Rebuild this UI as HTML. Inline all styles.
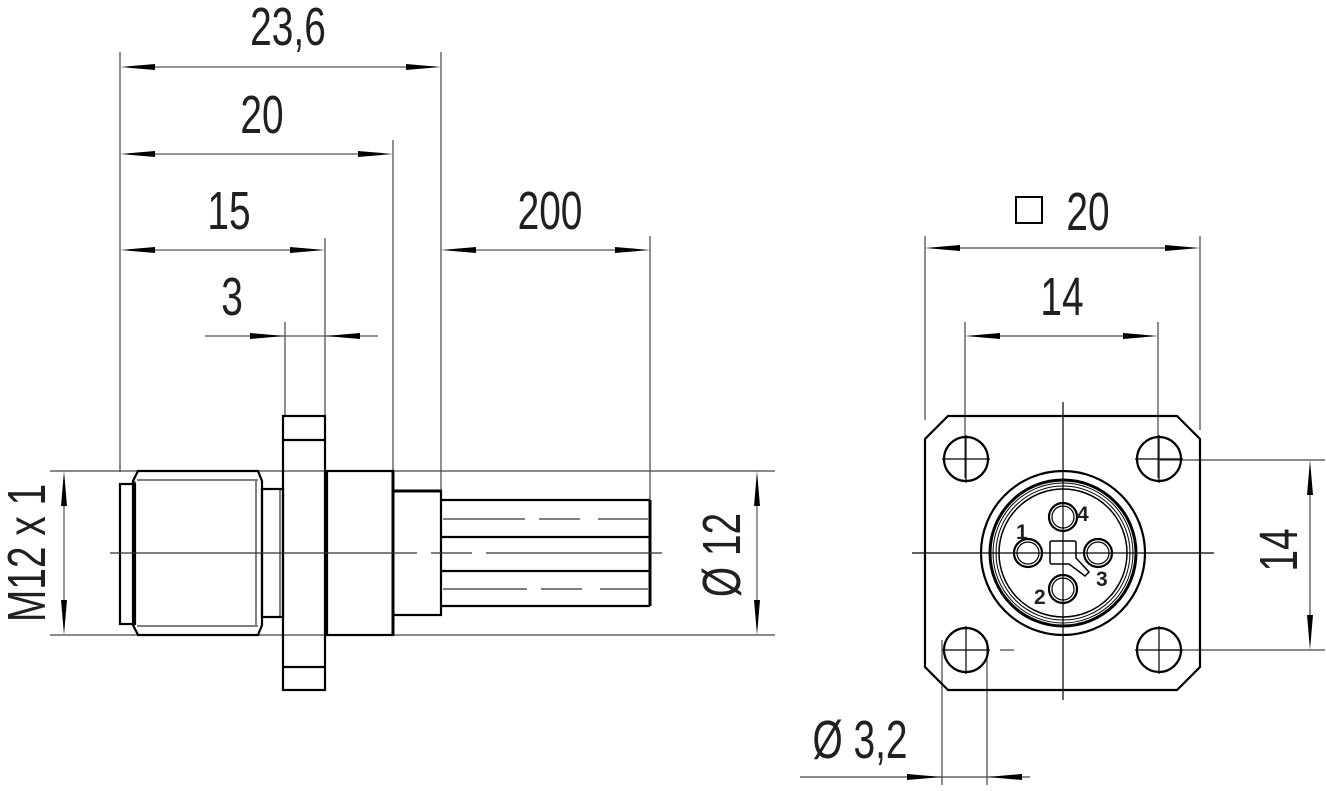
<!DOCTYPE html>
<html><head><meta charset="utf-8"><style>
html,body{margin:0;padding:0;background:#fff;}
svg{display:block}
text{font-family:"Liberation Sans",sans-serif;font-size:54px;fill:#231f20;}
</style></head><body>
<svg width="1326" height="791" viewBox="0 0 1326 791" xmlns="http://www.w3.org/2000/svg">
<g stroke="#000" fill="none">
<g stroke-width="1.2" stroke="#444">
<line x1="120" y1="52" x2="120" y2="472"/>
<line x1="393" y1="140" x2="393" y2="472"/>
<line x1="441" y1="52" x2="441" y2="491"/>
<line x1="325" y1="238" x2="325" y2="416"/>
<line x1="285" y1="322" x2="285" y2="416"/>
<line x1="650" y1="236" x2="650" y2="500"/>
<line x1="50" y1="471" x2="775" y2="471"/>
<line x1="50" y1="635" x2="775" y2="635"/>
</g>
<g stroke-width="1.2" stroke="#555">
<line x1="155" y1="67" x2="406" y2="67"/>
<line x1="155" y1="154" x2="358" y2="154"/>
<line x1="155" y1="250" x2="290" y2="250"/>
<line x1="476" y1="250" x2="615" y2="250"/>
<line x1="205" y1="336" x2="378" y2="336"/>
<line x1="64" y1="506" x2="64" y2="600"/>
<line x1="757" y1="506" x2="757" y2="600"/>
</g>
<g stroke="none" fill="#000">
<path d="M120,67 l35,-3 v6z M441,67 l-35,-3 v6z"/>
<path d="M120,154 l35,-3 v6z M393,154 l-35,-3 v6z"/>
<path d="M120,250 l35,-3 v6z M325,250 l-35,-3 v6z"/>
<path d="M441,250 l35,-3 v6z M650,250 l-35,-3 v6z"/>
<path d="M285,336 l-35,-3 v6z M325,336 l35,-3 v6z"/>
<path d="M64,471 l-3,35 h6z M64,635 l-3,-35 h6z"/>
<path d="M757,471 l-3,35 h6z M757,635 l-3,-35 h6z"/>
</g>
<g stroke-width="2.2">
<rect x="120" y="484" width="15" height="140"/>
<path d="M138,471 H258 L262,481 V625 L258,635 H138 L133,625 V481 Z"/>
<line x1="137" y1="480" x2="258" y2="480" stroke-width="1"/>
<line x1="137" y1="626" x2="258" y2="626" stroke-width="1"/>
<line x1="135" y1="481" x2="135" y2="625" stroke-width="1"/>
<line x1="256" y1="481" x2="256" y2="625" stroke-width="1"/>
<rect x="262" y="489" width="21" height="128"/>
<line x1="280" y1="489" x2="280" y2="617" stroke-width="1"/>
<rect x="283" y="416" width="42" height="274"/>
<line x1="283" y1="440" x2="325" y2="440"/>
<line x1="283" y1="667" x2="325" y2="667"/>
<rect x="327" y="471" width="66" height="164"/>
<rect x="393" y="491" width="48" height="124"/>
<line x1="393" y1="491" x2="441" y2="491" stroke-width="3"/>
<line x1="393" y1="471" x2="393" y2="635" stroke-width="3"/>
<line x1="441" y1="500" x2="650" y2="500"/>
<line x1="441" y1="537" x2="650" y2="537"/>
<line x1="441" y1="571" x2="650" y2="571"/>
<line x1="441" y1="606" x2="650" y2="606"/>
<line x1="650" y1="500" x2="650" y2="606" stroke-width="3"/>
</g>
<g stroke-width="1.2" stroke="#333">
<line x1="443" y1="519" x2="525" y2="519"/><line x1="539" y1="519" x2="580" y2="519"/><line x1="598" y1="519" x2="648" y2="519"/>
<line x1="443" y1="589" x2="527" y2="589"/><line x1="541" y1="589" x2="582" y2="589"/><line x1="600" y1="589" x2="648" y2="589"/>
<line x1="110" y1="553" x2="417" y2="553"/><line x1="431" y1="553" x2="472" y2="553"/><line x1="486" y1="553" x2="662" y2="553"/>
</g>

<g stroke-width="1.2" stroke="#444">
<line x1="925" y1="236" x2="925" y2="420"/>
<line x1="1200" y1="236" x2="1200" y2="430"/>
<line x1="965" y1="322" x2="965" y2="478"/>
<line x1="1158" y1="322" x2="1158" y2="478"/>
<line x1="1160" y1="460" x2="1325" y2="460"/>
<line x1="1160" y1="650" x2="1325" y2="650"/>
<line x1="942" y1="640" x2="942" y2="785"/>
<line x1="987" y1="640" x2="987" y2="785"/>
<line x1="960" y1="248" x2="1165" y2="248"/>
<line x1="1000" y1="336" x2="1123" y2="336"/>
<line x1="1310" y1="495" x2="1310" y2="615"/>
<line x1="800" y1="777" x2="1030" y2="777"/>
<line x1="1000" y1="650" x2="1014" y2="650"/>
</g>
<g stroke="none" fill="#000">
<path d="M925,248 l35,-3 v6z M1200,248 l-35,-3 v6z"/>
<path d="M965,336 l35,-3 v6z M1158,336 l-35,-3 v6z"/>
<path d="M1310,460 l-3,35 h6z M1310,650 l-3,-35 h6z"/>
<path d="M942,777 l-35,-3 v6z M987,777 l35,-3 v6z"/>
</g>
<g stroke-width="2.2">
<path d="M948,416 H1177 L1200,439 V667 L1177,690 H948 L925,667 V439 Z"/>
<circle cx="966" cy="459" r="22"/><circle cx="1159" cy="459" r="22"/>
<circle cx="966" cy="650" r="22"/><circle cx="1159" cy="650" r="22"/>
<circle cx="1063" cy="553" r="82"/>
<circle cx="1063" cy="553" r="73" stroke-width="3"/>
<circle cx="1063" cy="553" r="70" stroke-width="1"/>
<circle cx="1063" cy="553" r="67" stroke-width="1"/>
<circle cx="1063" cy="553" r="64" stroke-width="1.5"/>
<circle cx="1063" cy="517" r="14"/><circle cx="1063" cy="517" r="11" stroke-width="1.2"/>
<circle cx="1028" cy="553" r="14"/><circle cx="1028" cy="553" r="11" stroke-width="1.2"/>
<circle cx="1098" cy="553" r="14"/><circle cx="1098" cy="553" r="11" stroke-width="1.2"/>
<circle cx="1063" cy="589" r="14"/><circle cx="1063" cy="589" r="11" stroke-width="1.2"/>
<path d="M1052,541 H1074 Q1076,541 1076,543 V558 L1089,572 L1085,576 L1069,564 H1052 Q1050,564 1050,562 V543 Q1050,541 1052,541 Z" stroke-width="1.5"/>
</g>
<g stroke-width="1.2">
<line x1="1063" y1="402" x2="1063" y2="700"/>
<line x1="912" y1="553" x2="1214" y2="553"/>
<line x1="942" y1="459" x2="990" y2="459"/><line x1="966" y1="435" x2="966" y2="483"/>
<line x1="1135" y1="459" x2="1183" y2="459"/><line x1="1159" y1="435" x2="1159" y2="483"/>
<line x1="942" y1="650" x2="990" y2="650"/><line x1="966" y1="626" x2="966" y2="674"/>
<line x1="1135" y1="650" x2="1183" y2="650"/><line x1="1159" y1="626" x2="1159" y2="674"/>
</g>
<rect x="1016" y="197" width="26" height="26" stroke-width="2"/>
</g>
<g>
<text transform="translate(288,45) scale(0.72,1)" text-anchor="middle">23,6</text>
<text transform="translate(262,133) scale(0.72,1)" text-anchor="middle">20</text>
<text transform="translate(229,229) scale(0.72,1)" text-anchor="middle">15</text>
<text transform="translate(232,315) scale(0.72,1)" text-anchor="middle">3</text>
<text transform="translate(550,229) scale(0.72,1)" text-anchor="middle">200</text>
<text transform="translate(45,553) rotate(-90) scale(0.72,1)" text-anchor="middle">M12 x 1</text>
<text transform="translate(740,555) rotate(-90) scale(0.72,1)" text-anchor="middle">Ø 12</text>
<text transform="translate(1088,230) scale(0.72,1)" text-anchor="middle">20</text>
<text transform="translate(1062,315) scale(0.72,1)" text-anchor="middle">14</text>
<text transform="translate(1297,550) rotate(-90) scale(0.72,1)" text-anchor="middle">14</text>
<text transform="translate(860,758) scale(0.72,1)" text-anchor="middle">Ø 3,2</text>
<text x="1016" y="539" style="font-size:21px;font-weight:bold">1</text>
<text x="1077" y="521" style="font-size:21px;font-weight:bold">4</text>
<text x="1096" y="586" style="font-size:21px;font-weight:bold">3</text>
<text x="1034" y="604" style="font-size:21px;font-weight:bold">2</text>
</g>
</svg>
</body></html>
